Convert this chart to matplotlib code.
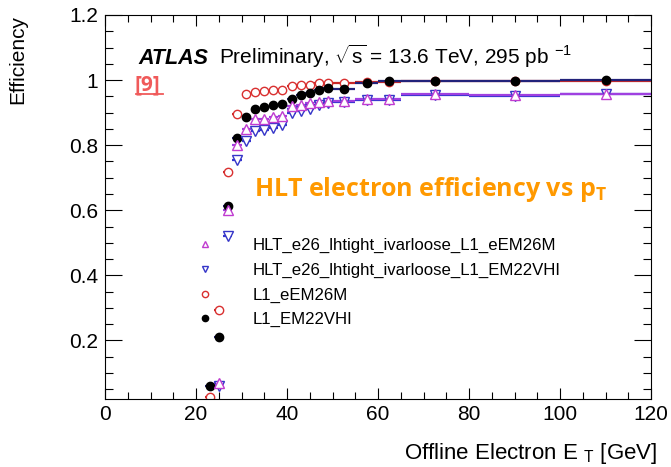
"""ATLAS-style HLT electron trigger efficiency vs offline electron E_T."""

import numpy as np
import matplotlib

matplotlib.use("Agg")
import matplotlib.pyplot as plt
from matplotlib.ticker import MultipleLocator

plt.rcParams.update({
    "font.family": ["Liberation Sans", "DejaVu Sans"],
    "mathtext.fontset": "custom",
    "mathtext.rm": "Liberation Sans",
    "mathtext.it": "Liberation Sans:italic",
    "mathtext.bf": "Liberation Sans:bold",
    "axes.linewidth": 0.8,
})

# bin centres / half widths [GeV]
PT = [23, 25, 27, 29, 31, 33, 35, 37, 39, 41, 43, 45, 47, 49,
      52.5, 57.5, 62.5, 72.5, 90, 110]
PT_HW = [1] * 14 + [2.5, 2.5, 2.5, 7.5, 10, 10]

EFF_HLT_EEM26M = [np.nan, 0.068, 0.602, 0.800, 0.851, 0.879, 0.881, 0.887, 0.891,
                  0.920, 0.922, 0.930, 0.932, 0.935, 0.935, 0.941, 0.942, 0.956,
                  0.953, 0.958]
EFF_HLT_EM22VHI = [np.nan, 0.060, 0.522, 0.755, 0.812, 0.843, 0.848, 0.853, 0.862,
                   0.899, 0.904, 0.912, 0.922, 0.930, 0.933, 0.939, 0.940, 0.955,
                   0.951, 0.957]
EFF_L1_EEM26M = [0.026, 0.292, 0.717, 0.897, 0.958, 0.963, 0.966, 0.969, 0.971,
                 0.983, 0.986, 0.986, 0.990, 0.990, 0.992, 0.993, 0.994, 0.997,
                 0.997, 0.998]
EFF_L1_EM22VHI = [0.060, 0.210, 0.614, 0.822, 0.887, 0.912, 0.917, 0.922, 0.928,
                  0.942, 0.953, 0.961, 0.971, 0.976, 0.972, 0.991, 0.996, 0.998,
                  0.998, 0.999]
EFF_ERR = [0.004] * 14 + [0.003, 0.004, 0.004, 0.005, 0.006, 0.008]

LABELS = [
    "HLT_e26_lhtight_ivarloose_L1_eEM26M",
    "HLT_e26_lhtight_ivarloose_L1_EM22VHI",
    "L1_eEM26M",
    "L1_EM22VHI",
]

W, H = 671, 467
fig = plt.figure(figsize=(W / 100, H / 100), dpi=100)
ax = fig.add_axes([105 / W, 1 - 399 / H, 546 / W, 384 / H])

# (values, label, marker, marker colour, face, bar colour)
SERIES = [
    (EFF_L1_EEM26M, LABELS[2], "o", "#d93030", "white", "#c82828"),
    (EFF_L1_EM22VHI, LABELS[3], "o", "black", "black", "#22227a"),
    (EFF_HLT_EM22VHI, LABELS[1], "v", "#3535c8", "white", "#3535d0"),
    (EFF_HLT_EEM26M, LABELS[0], "^", "#c03cd0", "white", "#a040e0"),
]
handles = {}
for vals, lab, mk, col, face, bar in SERIES:
    h = ax.errorbar(PT, vals, xerr=PT_HW, yerr=EFF_ERR, fmt=mk, color=col,
                    ecolor=bar, mfc=face, mec=col,
                    ms=6 if mk == "o" else 6.5, mew=1.0,
                    elinewidth=1.6, capsize=0, label=lab)
    handles[lab] = h[0]

ax.set_xlim(0, 120)
ax.set_ylim(0.02, 1.2)
ax.xaxis.set_major_locator(MultipleLocator(20))
ax.xaxis.set_minor_locator(MultipleLocator(5))
ax.yaxis.set_minor_locator(MultipleLocator(0.05))
ax.set_yticks([0.2, 0.4, 0.6, 0.8, 1.0, 1.2])
ax.set_yticklabels(["0.2", "0.4", "0.6", "0.8", "1", "1.2"])
ax.tick_params(which="both", direction="in", top=True, right=True,
               labelsize=15, width=0.8)
ax.tick_params(axis="y", which="major", length=12, pad=5)
ax.tick_params(axis="y", which="minor", length=6)
ax.tick_params(axis="x", which="major", length=8, pad=4)
ax.tick_params(axis="x", which="minor", length=5)

# axis titles, ROOT style (right / top aligned)
fig.text(657 / W, 1 - 459 / H, r"Offline Electron E $_{\mathregular{T}}$ [GeV]",
         fontsize=16, ha="right", va="baseline")
fig.text(18 / W, 1 - 15 / H, "Efficiency", fontsize=15, rotation=90,
         ha="center", va="top")

# header texts
fig.text(138 / W, 1 - 64 / H, "ATLAS", fontsize=15.5, fontweight="bold",
         fontstyle="italic")
fig.text(219 / W, 1 - 64 / H,
         r"Preliminary, $\sqrt{\mathregular{s}}$ = 13.6 TeV, 295 pb $^{\mathregular{-1}}$",
         fontsize=15)
fig.text(135 / W, 1 - 90 / H, "[9]", fontsize=15, fontweight="bold",
         color="#f05a5a", family=["Open Sans", "DejaVu Sans"])
fig.add_artist(plt.Line2D([136 / W, 163 / W], [1 - 94 / H, 1 - 94 / H],
                          color="#f05a5a", lw=1.3))
fig.text(254 / W, 1 - 196 / H,
         r"HLT electron efficiency vs p$_{\mathregular{T}}$", fontsize=18,
         fontweight="bold", color="#ff9900",
         family=["Open Sans", "DejaVu Sans"])

leg = ax.legend([handles[l] for l in LABELS], LABELS, loc="upper left",
                bbox_to_anchor=(197 / W, 1 - 238 / H),
                bbox_transform=fig.transFigure, frameon=False, fontsize=12.1,
                handlelength=1.0, handletextpad=2.3, borderpad=0,
                borderaxespad=0, labelspacing=0.57, markerscale=0.75,
                numpoints=1)

fig.savefig("out.png", dpi=100)
